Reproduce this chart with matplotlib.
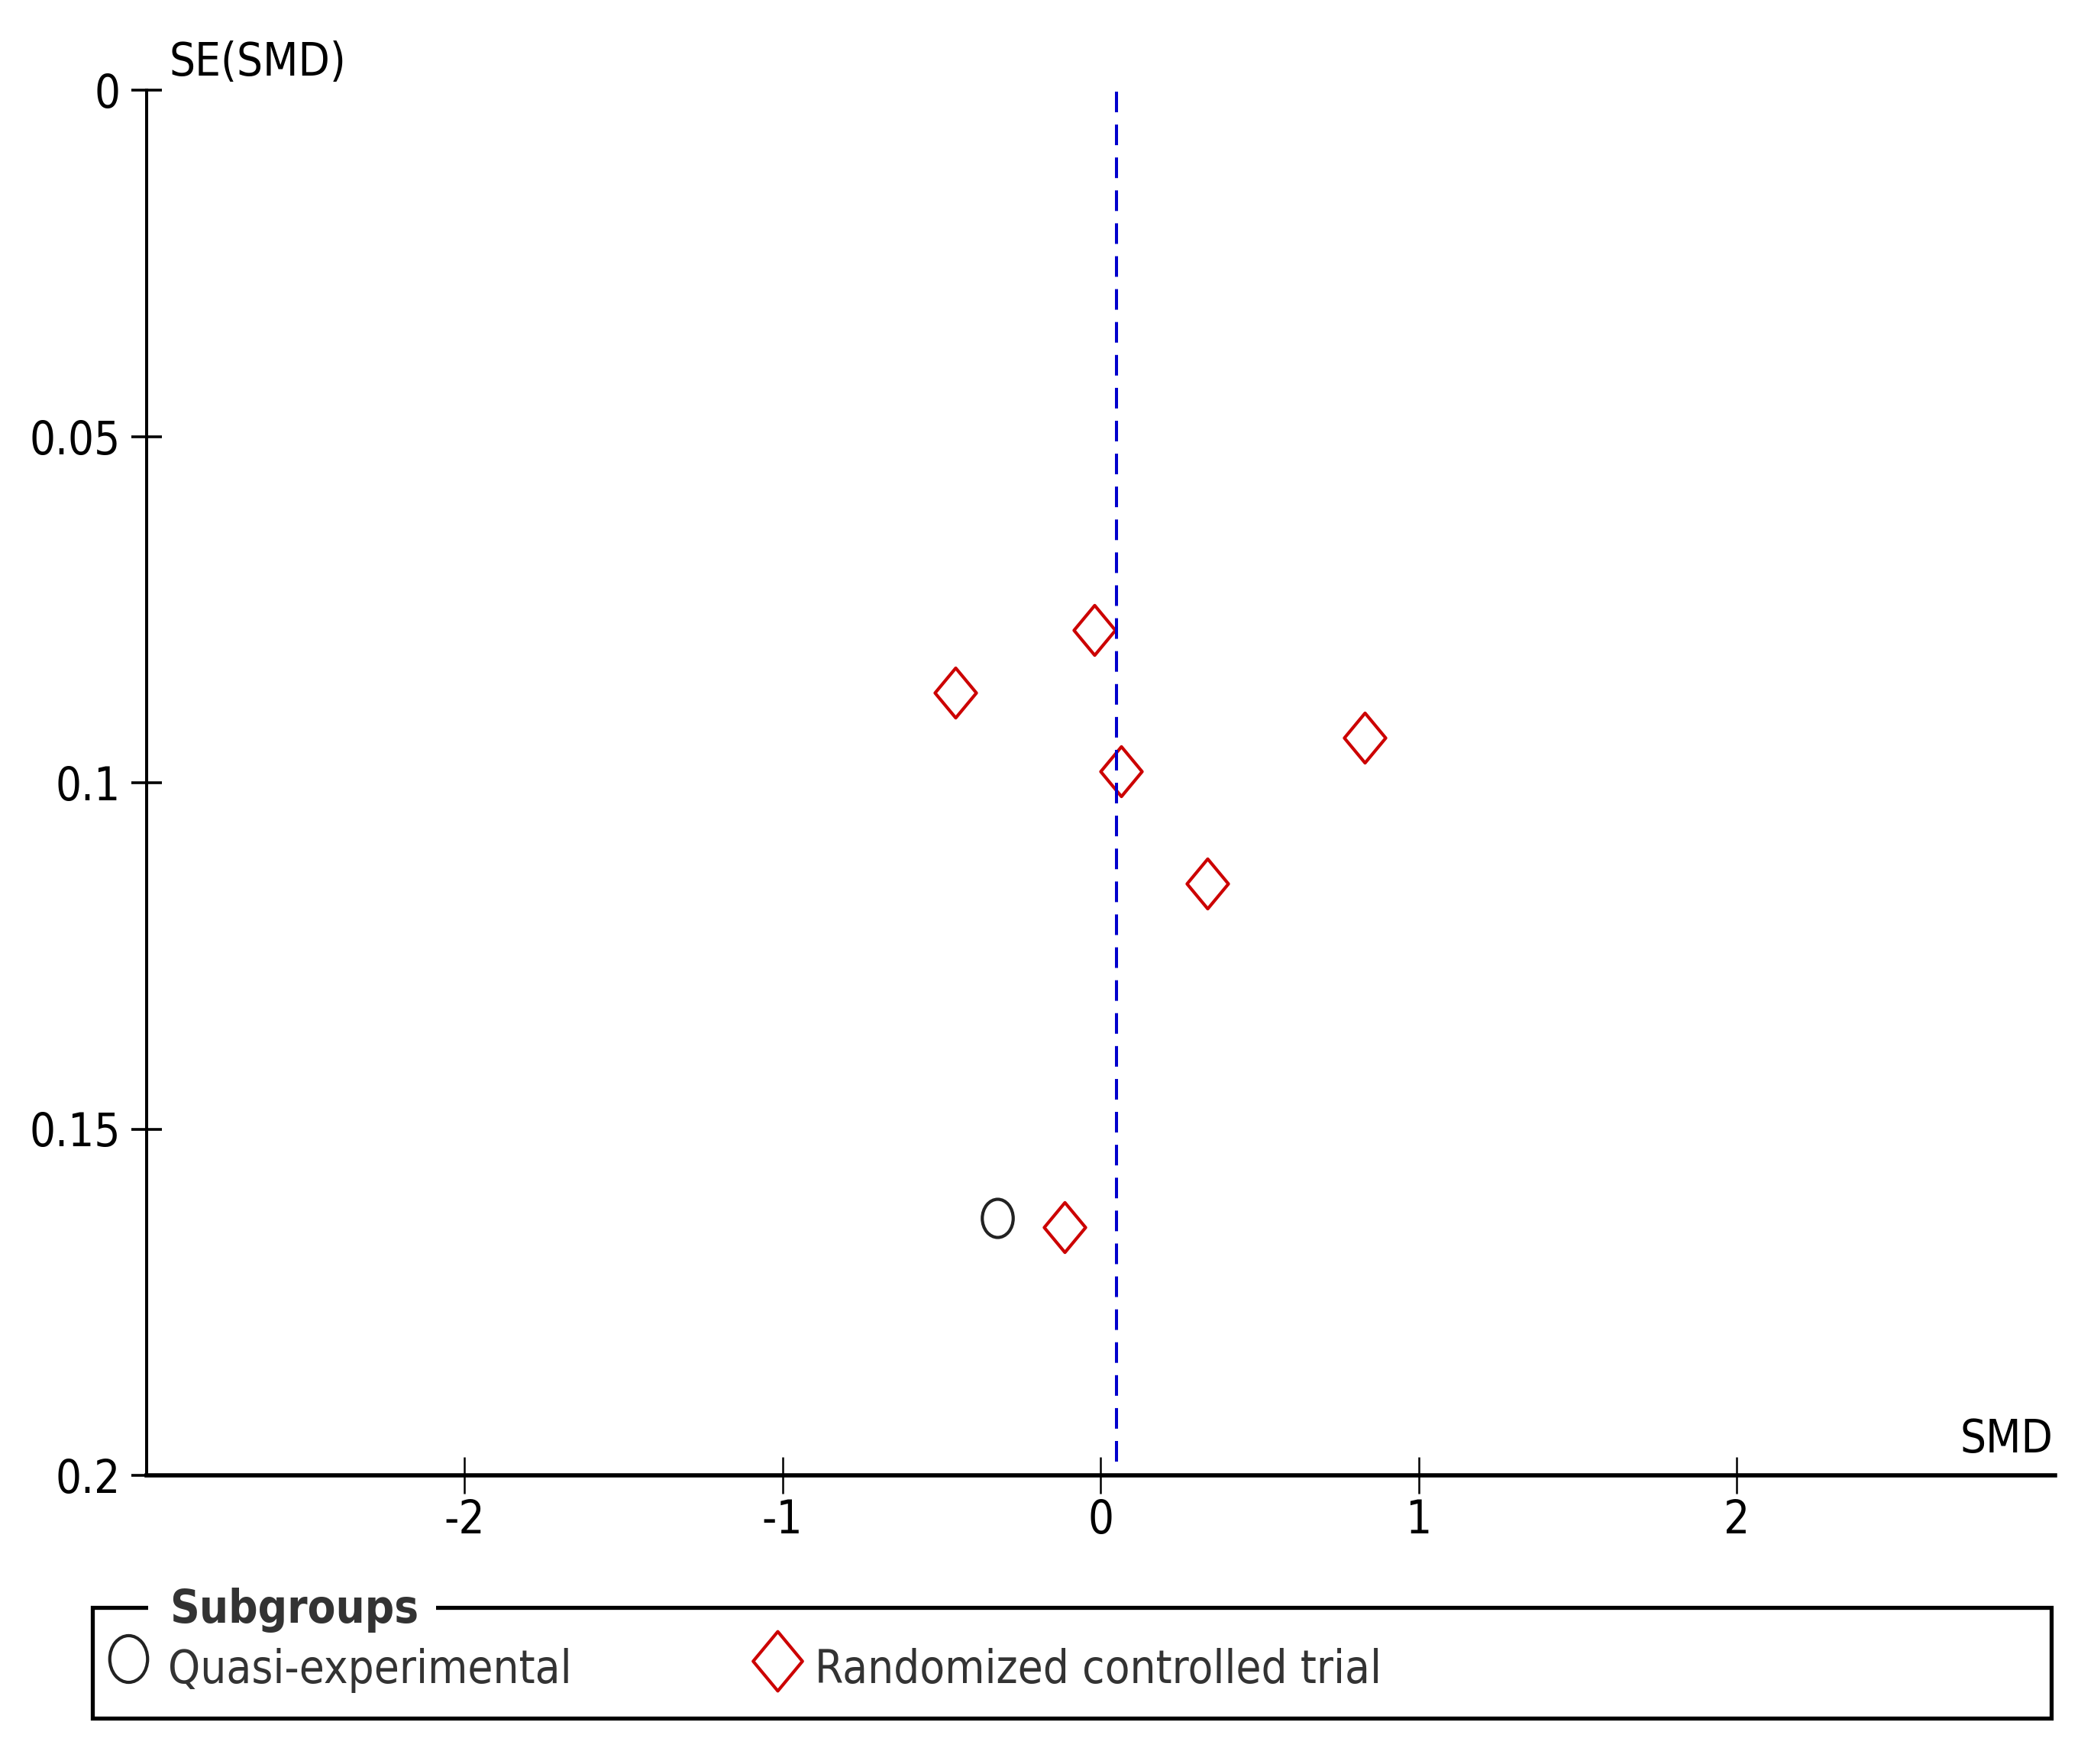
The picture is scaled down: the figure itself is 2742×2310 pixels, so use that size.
import matplotlib
matplotlib.use('Agg')
import matplotlib.pyplot as plt
import numpy as np
from matplotlib.path import Path
from matplotlib.lines import Line2D
from matplotlib.patches import Rectangle

# funnel plot data (SMD vs SE(SMD))
rct_smd = [-0.02, -0.455, 0.83, 0.065, 0.336, -0.113]
rct_se = [0.0780, 0.0870, 0.0935, 0.0983, 0.1145, 0.1642]
quasi_smd = [-0.324]
quasi_se = [0.1628]
pooled_smd = 0.05

group_labels = ['Quasi-experimental', 'Randomized controlled trial']
x_ticks = [-2, -1, 0, 1, 2]
x_ticklabels = ['-2', '-1', '0', '1', '2']
y_ticks = [0, 0.05, 0.1, 0.15, 0.2]
y_ticklabels = ['0', '0.05', '0.1', '0.15', '0.2']

W, H = 2742, 2310
plt.rcParams['font.family'] = ['DejaVu Sans']
plt.rcParams['font.stretch'] = 'condensed'
FS = 43


def px(x, y):
    # figure pixel -> figure fraction
    return x / W, 1 - y / H


# slightly narrow markers, like the original screenshot
diamond = Path([(0, 1), (0.83, 0), (0, -1), (-0.83, 0), (0, 1)],
               [Path.MOVETO, Path.LINETO, Path.LINETO, Path.LINETO, Path.CLOSEPOLY])
circ = Path.unit_circle()
ellipse = Path(circ.vertices * np.array([0.81, 1.0]), circ.codes)

RED = '#CC0000'
BLUE = '#0000CC'
DARK = '#222222'

fig = plt.figure(figsize=(W / 100, H / 100), dpi=100)
ax = fig.add_axes([191.5 / W, 1 - 1932 / H, 2499 / W, 1814 / H])

ax.plot(rct_smd, rct_se, linestyle='none', marker=diamond, markersize=47,
        markerfacecolor='none', markeredgecolor=RED, markeredgewidth=3.0, zorder=2)
ax.plot(quasi_smd, quasi_se, linestyle='none', marker=ellipse, markersize=36,
        markerfacecolor='none', markeredgecolor=DARK, markeredgewidth=3.0, zorder=2)

ln = ax.axvline(pooled_smd, ymin=0.01, ymax=1, color=BLUE, linewidth=2.9, zorder=3)
ln.set_dashes((6.7, 4.0))

ax.set_xlim(-3, 3)
ax.set_ylim(0.2, 0)

ax.set_xticks(x_ticks)
ax.set_xticklabels(x_ticklabels)
ax.set_yticks(y_ticks)
ax.set_yticklabels(y_ticklabels)

for s in ['top', 'right']:
    ax.spines[s].set_visible(False)
ax.spines['bottom'].set_linewidth(4.0)
ax.spines['left'].set_linewidth(2.9)

ax.tick_params(axis='x', direction='inout', length=34.5, width=1.8, pad=4.3,
               labelsize=FS, colors='black')
ax.tick_params(axis='y', direction='inout', length=29.5, width=2.6, pad=9.4,
               labelsize=FS, colors='black')

ax.annotate('SE(SMD)', xy=(0, 1), xycoords='axes fraction', xytext=(21.6, 13.7),
            textcoords='offset points', ha='left', va='baseline', fontsize=FS)
ax.annotate('SMD', xy=(1, 0), xycoords='axes fraction', xytext=(-1.5, 21.6),
            textcoords='offset points', ha='right', va='baseline', fontsize=FS)

# legend box ("Subgroups" sits in a gap of the top border)
x0, y0 = px(121, 2250)
x1, y1 = px(2686, 2105)
fig.add_artist(Rectangle((x0, y0), x1 - x0, y1 - y0, transform=fig.transFigure,
                         fill=False, edgecolor='black', linewidth=3.8, zorder=1))
title = fig.text(*px(222, 2125), 'Subgroups', fontsize=FS, fontweight='bold',
                 color='#333333', ha='left', va='baseline', zorder=3)
fig.canvas.draw()
tb = title.get_window_extent()
gx0, gy0 = px(tb.x0 - 28, 2118)
gx1, gy1 = px(tb.x1 + 23, 2092)
fig.add_artist(Rectangle((gx0, gy0), gx1 - gx0, gy1 - gy0, transform=fig.transFigure,
                         facecolor='white', edgecolor='none', zorder=2))

cx, cy = px(168, 2172)
fig.add_artist(Line2D([cx], [cy], transform=fig.transFigure, linestyle='none',
                      marker=ellipse, markersize=44, markerfacecolor='none',
                      markeredgecolor=DARK, markeredgewidth=3.0))
fig.text(*px(220, 2204), group_labels[0], fontsize=FS, color='#333333',
         ha='left', va='baseline')

dx, dy = px(1018, 2175)
fig.add_artist(Line2D([dx], [dy], transform=fig.transFigure, linestyle='none',
                      marker=diamond, markersize=56, markerfacecolor='none',
                      markeredgecolor=RED, markeredgewidth=3.0))
fig.text(*px(1067, 2204), group_labels[1], fontsize=FS, color='#333333',
         ha='left', va='baseline')

fig.savefig('out.png', dpi=100, facecolor='white')
